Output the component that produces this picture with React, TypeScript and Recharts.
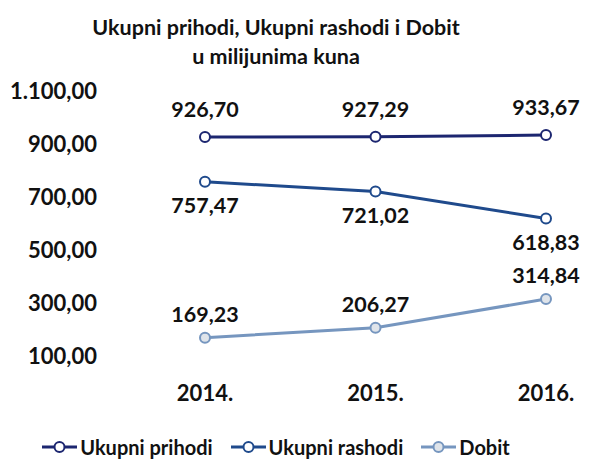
import { LineChart, Line, XAxis, YAxis, LabelList } from "recharts";

const years = ["2014.", "2015.", "2016."];
const prihodi = [926.7, 927.29, 933.67];
const rashodi = [757.47, 721.02, 618.83];
const dobit = [169.23, 206.27, 314.84];
const yTicks = [100, 300, 500, 700, 900, 1100];

const data = years.map((y, i) => ({
  year: y,
  prihodi: prihodi[i],
  rashodi: rashodi[i],
  dobit: dobit[i],
}));

const series = [
  { key: "prihodi", name: "Ukupni prihodi", color: "#1c2670", fill: "#ffffff", label: "top", offset: 20 },
  { key: "rashodi", name: "Ukupni rashodi", color: "#1f4a8c", fill: "#ffffff", label: "bottom", offset: 16 },
  { key: "dobit", name: "Dobit", color: "#7696bf", fill: "#dfe4ea", label: "top", offset: 16 },
];

const FONT = "Lato, 'Open Sans', sans-serif";

// 1100 -> "1.100,00"
function hr(v: number) {
  const [int, dec] = v.toFixed(2).split(".");
  return int.replace(/\B(?=(\d{3})+(?!\d))/g, ".") + "," + dec;
}

function LegendRow() {
  return (
    <div style={{ display: "flex", justifyContent: "center", gap: 18, fontFamily: FONT, fontWeight: 700, fontSize: 20, lineHeight: "24px", color: "#111" }}>
      {series.map((s) => (
        <div key={s.key} style={{ display: "flex", alignItems: "center" }}>
          <svg width={35} height={14}>
            <line x1={0} y1={7} x2={35} y2={7} stroke={s.color} strokeWidth={3} />
            <circle cx={17.5} cy={7} r={5} fill={s.fill} stroke={s.color} strokeWidth={2} />
          </svg>
          <span style={{ marginLeft: 3 }}>{s.name}</span>
        </div>
      ))}
    </div>
  );
}

export default function App() {
  return (
    <div style={{ position: "fixed", top: 0, left: 0, width: 596, height: 461, background: "#fff", overflow: "hidden" }}>
      <div style={{ position: "absolute", top: 13, left: 0, width: 552, textAlign: "center", fontFamily: FONT, fontWeight: 700, fontSize: 21.5, color: "#111", lineHeight: "29px" }}>
        <div>Ukupni prihodi, Ukupni rashodi i Dobit</div>
        <div>u milijunima kuna</div>
      </div>
      <div style={{ position: "absolute", top: 0, left: 0 }}>
        <LineChart width={596} height={461} data={data} margin={{ top: 91, right: 10, bottom: 55, left: 0 }}>
          <XAxis
            dataKey="year"
            axisLine={false}
            tickLine={false}
            tickSize={0}
            tickMargin={29}
            padding={{ left: 95, right: 40 }}
            tick={{ fontFamily: FONT, fontWeight: 700, fontSize: 22, fill: "#111" }}
            height={50}
          />
          <YAxis
            width={110}
            domain={[100, 1100]}
            ticks={yTicks}
            axisLine={false}
            tickLine={false}
            tickSize={0}
            tickMargin={13}
            tickFormatter={hr}
            tick={{ fontFamily: FONT, fontWeight: 700, fontSize: 22, fill: "#111" }}
          />
          {series.map((s) => (
            <Line
              key={s.key}
              dataKey={s.key}
              name={s.name}
              stroke={s.color}
              strokeWidth={3}
              dot={{ r: 5, fill: s.fill, stroke: s.color, strokeWidth: 2 }}
              isAnimationActive={false}
            >
              <LabelList
                dataKey={s.key}
                position={s.label as "top" | "bottom"}
                offset={s.offset}
                formatter={(v: number) => hr(v)}
                style={{ fontFamily: FONT, fontWeight: 700, fontSize: 21.5, fill: "#111" }}
              />
            </Line>
          ))}
        </LineChart>
      </div>
      <div style={{ position: "absolute", top: 435, left: 0, width: 552 }}>
        <LegendRow />
      </div>
    </div>
  );
}
